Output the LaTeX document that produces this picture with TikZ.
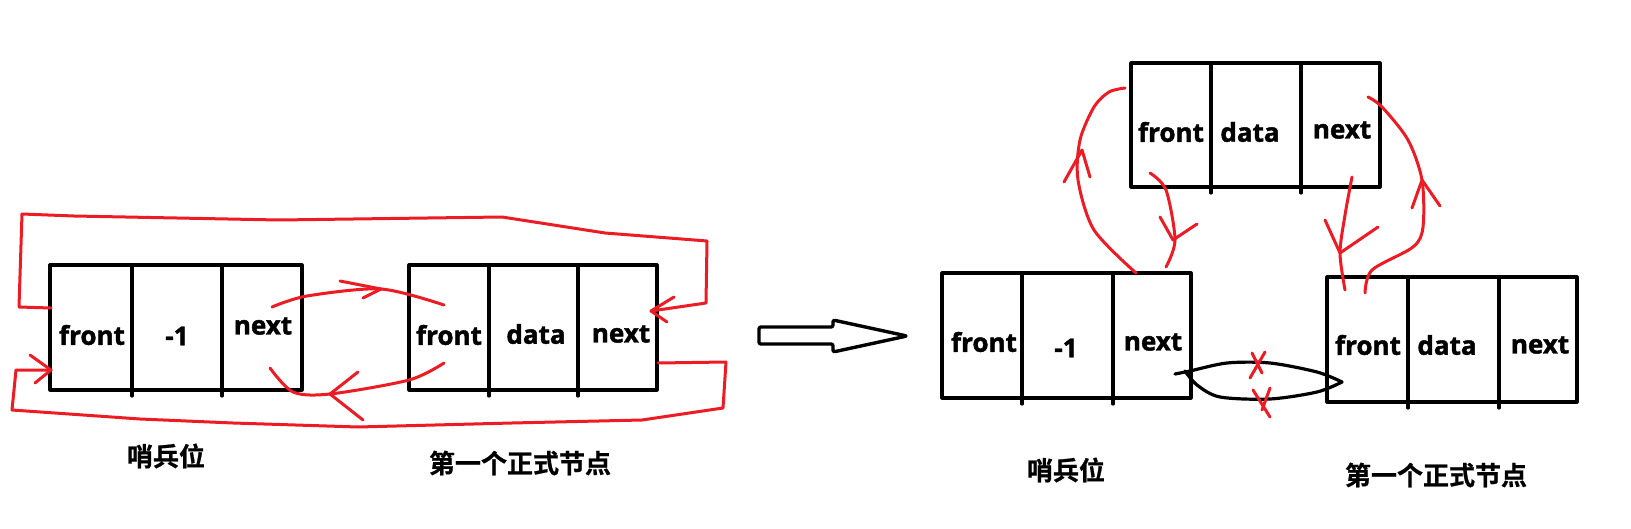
\documentclass[tikz,border=0pt]{standalone}
\usepackage{fontspec}
\setmainfont{Open Sans}[BoldFeatures={FakeBold=1.6}]
\newfontfamily\cjk{Noto Sans CJK SC}[BoldFont={Noto Sans CJK SC Bold}, BoldFeatures={FakeBold=0.8}]
\usepackage{xcolor}
\definecolor{paintred}{HTML}{ED1C24}
\definecolor{paintink}{HTML}{000000}

\begin{document}
\begin{tikzpicture}[x=0.5pt, y=-0.5pt, line join=round, line cap=round,
                    every node/.style={paintink, inner sep=1pt},
                    box/.style={paintink, line width=1.6pt},
                    fld/.style={font=\fontsize{13}{15}\selectfont\bfseries},
                    tag/.style={font=\cjk\fontsize{13}{15}\selectfont\bfseries},
                    pen/.style={paintred, line width=1.5pt},
                    ink/.style={paintink, line width=1.6pt}]

  \useasboundingbox (0,0) rectangle (1631,529);

  %% 左：哨兵位与第一个正式节点
  \draw[box] (50,265) rectangle (302,390);
  \draw[box] (132,265) -- (132,396);
  \draw[box] (222,265) -- (222,396);
  \node[fld] (sfront) at (92,335)  {front};
  \node[fld] (sval)   at (177,336) {-1};
  \node[fld] (snext)  at (263,326) {next};

  \draw[box] (409,265) rectangle (657,390);
  \draw[box] (489,265) -- (489,396);
  \draw[box] (578,265) -- (578,396);
  \node[fld] (ffront) at (449,335) {front};
  \node[fld] (fdata)  at (536,334) {data};
  \node[fld] (fnext)  at (621,334) {next};

  \node[tag] (stag) at (166,456) {哨兵位};
  \node[tag] (ftag) at (520,463) {第一个正式节点};

  %% 左：外圈两条
  \draw[pen] (51,308) -- (19,307) -- (22,214) -- (74,216) -- (279,220) -- (502,217)
    -- (605,233) -- (707,241) -- (706,303) -- (651,311);
  \draw[pen] (674,297) -- (651,311) -- (667,322);
  \draw[pen] (658,363) -- (726,362) -- (723,408) -- (642,420) -- (512,423) -- (358,427)
    -- (233,423) -- (140,419) -- (12,410) -- (16,370) -- (51,370);
  \draw[pen] (30,355) -- (51,370) -- (35,383);

  %% 左：中间两条
  \draw[pen] plot[smooth] coordinates {(272,307) (307,296) (381,289) (444,305)};
  \draw[pen] (340,281) -- (381,289) -- (363,298);
  \draw[pen] plot[smooth] coordinates {(444,363) (409,380) (330,394) (293,392) (270,368)};
  \draw[pen] (358,372) -- (330,394) -- (363,420);

  %% 中间的空心箭头
  \draw[ink, line width=1.7pt, rounded corners=1pt] (759,327) -- (833,327) -- (833,320)
    -- (907,336) -- (833,352) -- (833,344) -- (759,344) -- cycle;

  %% 右：新插入的节点
  \draw[box] (1131,63) rectangle (1380,187);
  \draw[box] (1211,63) -- (1211,193);
  \draw[box] (1301,63) -- (1301,193);
  \node[fld] (nfront) at (1171,132) {front};
  \node[fld] (ndata)  at (1250,132) {data};
  \node[fld] (nnext)  at (1342,130) {next};

  %% 右：哨兵位
  \draw[box] (942,273) rectangle (1191,398);
  \draw[box] (1022,273) -- (1022,404);
  \draw[box] (1113,273) -- (1113,404);
  \node[fld] (hfront) at (984,342)  {front};
  \node[fld] (hval)   at (1066,348) {-1};
  \node[fld] (hnext)  at (1153,342) {next};

  %% 右：第一个正式节点
  \draw[box] (1327,277) rectangle (1577,402);
  \draw[box] (1408,277) -- (1408,408);
  \draw[box] (1499,277) -- (1499,408);
  \node[fld] (gfront) at (1368,345) {front};
  \node[fld] (gdata)  at (1447,345) {data};
  \node[fld] (gnext)  at (1540,345) {next};

  \node[tag] (htag) at (1066,470) {哨兵位};
  \node[tag] (gtag) at (1436,475) {第一个正式节点};

  %% 右：四条新指向
  \draw[pen] plot[smooth] coordinates {(1136,273) (1094,230) (1078,180) (1080,140)
    (1094,107) (1109,92) (1125,88)};
  \draw[pen] (1064,182) -- (1082,150) -- (1090,177);
  \draw[pen] plot[smooth] coordinates {(1150,173) (1166,190) (1175,240) (1166,267)};
  \draw[pen] (1160,217) -- (1173,240) -- (1197,224);
  \draw[pen] plot[smooth] coordinates {(1352,177) (1345,215) (1340,253) (1345,290)};
  \draw[pen] (1325,220) -- (1340,253) -- (1378,227);
  \draw[pen] plot[smooth] coordinates {(1365,293) (1372,270) (1413,247) (1423,227)
    (1422,180) (1408,140) (1382,107) (1368,97)};
  \draw[pen] (1412,208) -- (1422,180) -- (1440,206);

  %% 右：原来的两条指向被划掉
  \draw[ink] plot[smooth] coordinates {(1175,374) (1190,371) (1227,363) (1270,363)
    (1317,372) (1342,382)};
  \draw[ink] plot[smooth] coordinates {(1342,382) (1317,392) (1270,399) (1220,397)
    (1197,385) (1185,371)};
  \draw[pen] (1252,353) -- (1262,373);
  \draw[pen] (1265,352) -- (1250,378);
  \draw[pen] (1253,390) -- (1270,417);
  \draw[pen] (1270,388) -- (1262,410);

\end{tikzpicture}
\end{document}
